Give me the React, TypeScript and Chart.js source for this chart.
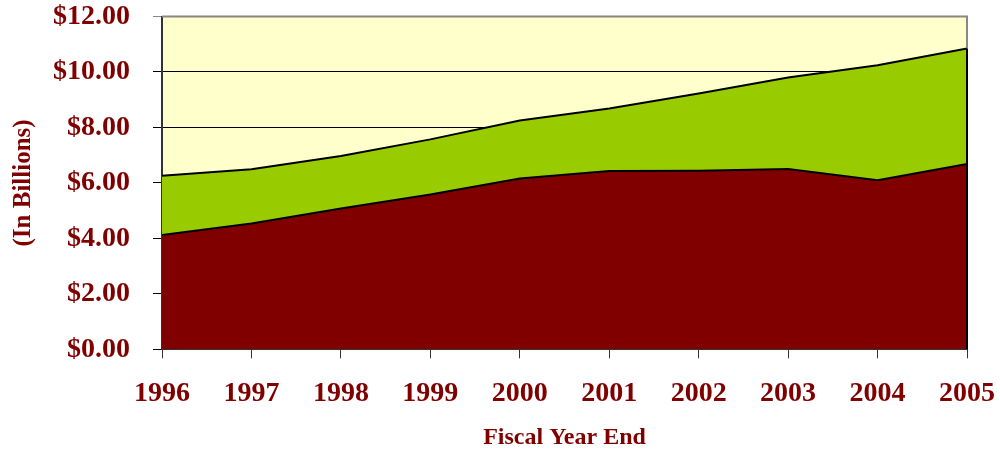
import React, { useEffect, useRef } from "react";
import { Chart, registerables } from "chart.js";

Chart.register(...registerables);

const years = ["1996", "1997", "1998", "1999", "2000", "2001", "2002", "2003", "2004", "2005"];
const lowerValues = [4.12, 4.54, 5.08, 5.58, 6.16, 6.43, 6.44, 6.5, 6.1, 6.68];
const upperValues = [2.14, 1.95, 1.89, 1.99, 2.09, 2.25, 2.78, 3.3, 4.14, 4.17];
const yTickValues = [0, 2, 4, 6, 8, 10, 12];

const RED = "#800000";
const GREEN = "#99CC00";
const BG = "#FFFFCC";
const TEXT = "#800000";
const FONT = "'Liberation Serif', 'Times New Roman', serif";

const areaPlugin = {
  id: "areaDecor",
  beforeDraw(chart: any) {
    const { ctx, chartArea } = chart;
    ctx.save();
    ctx.fillStyle = BG;
    ctx.fillRect(chartArea.left, chartArea.top, chartArea.right - chartArea.left, chartArea.bottom - chartArea.top);
    ctx.restore();
  },
  afterDatasetsDraw(chart: any) {
    const { ctx, chartArea, scales } = chart;
    const last = years.length - 1;
    const totalLast = lowerValues[last] + upperValues[last];
    const yTop = scales.y.getPixelForValue(totalLast);
    ctx.save();
    ctx.lineWidth = 2;
    ctx.strokeStyle = "#888888";
    ctx.beginPath();
    ctx.moveTo(chartArea.left, chartArea.top);
    ctx.lineTo(chartArea.right, chartArea.top);
    ctx.lineTo(chartArea.right, yTop);
    ctx.stroke();
    ctx.strokeStyle = "#000000";
    ctx.beginPath();
    ctx.moveTo(chartArea.right, yTop);
    ctx.lineTo(chartArea.right, chartArea.bottom);
    ctx.stroke();
    ctx.restore();
  },
};

export default function App() {
  const ref = useRef<HTMLCanvasElement | null>(null);

  useEffect(() => {
    if (!ref.current) return;
    const chart = new Chart(ref.current, {
      type: "line",
      data: {
        labels: years,
        datasets: [
          {
            label: "Lower",
            data: lowerValues,
            backgroundColor: RED,
            borderColor: "#000000",
            borderWidth: 2,
            fill: "origin",
            pointRadius: 0,
            tension: 0,
          },
          {
            label: "Upper",
            data: upperValues,
            backgroundColor: GREEN,
            borderColor: "#000000",
            borderWidth: 2,
            fill: "-1",
            pointRadius: 0,
            tension: 0,
          },
        ],
      },
      options: {
        responsive: false,
        animation: false,
        layout: { padding: { left: 0, right: 33, top: 16.5, bottom: 0 } },
        plugins: {
          legend: { display: false },
          tooltip: { enabled: false },
        },
        scales: {
          x: {
            type: "category",
            offset: false,
            grid: {
              drawOnChartArea: false,
              drawTicks: true,
              tickLength: 9,
              color: "#333333",
            },
            border: { display: true, color: "#333333", width: 2 },
            ticks: {
              color: TEXT,
              padding: 21,
              maxRotation: 0,
              autoSkip: false,
              font: { family: FONT, size: 28, weight: "bold", lineHeight: 1 },
            },
            title: {
              display: true,
              text: "Fiscal Year End",
              color: TEXT,
              padding: { top: 0, bottom: 2 },
              font: { family: FONT, size: 24, weight: "bold", lineHeight: 1 },
            },
            afterFit(scale: any) {
              scale.height = 102.7;
              scale.paddingLeft = 0;
              scale.paddingRight = 0;
            },
          },
          y: {
            stacked: true,
            min: 0,
            max: 12,
            afterBuildTicks(scale: any) {
              scale.ticks = yTickValues.map((v) => ({ value: v }));
            },
            grid: {
              drawOnChartArea: true,
              drawTicks: true,
              tickLength: 9,
              color: (c: any) => (c.tick && c.tick.value === 12 ? "#888888" : "#000000"),
              lineWidth: 1,
            },
            border: { display: true, color: "#333333", width: 2 },
            ticks: {
              color: TEXT,
              padding: 23,
              font: { family: FONT, size: 28, weight: "bold", lineHeight: 1 },
              callback: (v: any) => "$" + Number(v).toFixed(2),
            },
            title: {
              display: true,
              text: "(In Billions)",
              color: TEXT,
              padding: { top: 11, bottom: 0 },
              font: { family: FONT, size: 25, weight: "bold", lineHeight: 1 },
            },
            afterFit(scale: any) {
              scale.width = 162;
              scale.paddingTop = 0;
              scale.paddingBottom = 0;
            },
          },
        },
      },
      plugins: [areaPlugin],
    });
    return () => chart.destroy();
  }, []);

  return (
    <div style={{ position: "absolute", left: 0, top: 0, width: 1000, height: 452, background: "#ffffff" }}>
      <canvas ref={ref} width={1000} height={452} style={{ display: "block" }} />
    </div>
  );
}
